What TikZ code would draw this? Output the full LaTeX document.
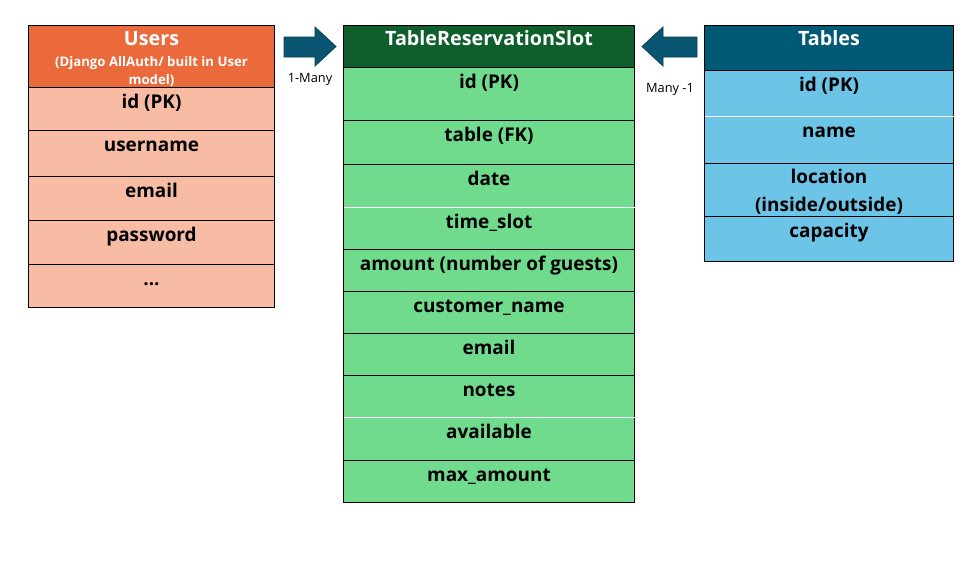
\documentclass[tikz,border=0pt]{standalone}
\usepackage{fontspec}
\setmainfont{Open Sans}
\usetikzlibrary{calc}
\definecolor{uhead}{HTML}{EA6A3B}
\definecolor{urow}{HTML}{F7BCA3}
\definecolor{ghead}{HTML}{0E5F2B}
\definecolor{grow}{HTML}{70DB8C}
\definecolor{thead}{HTML}{005A76}
\definecolor{trow}{HTML}{6CC4E6}
\definecolor{arrowfill}{HTML}{0A5571}
\definecolor{arrowline}{HTML}{083F55}
\begin{document}
\begin{tikzpicture}[x=0.75pt,y=-0.75pt,
  cell/.style 2 args={draw=black, line width=0.75pt, inner sep=0pt, anchor=north west,
     minimum width=#1*0.75pt, minimum height=#2*0.75pt},
  rowtext/.style={font=\bfseries\fontsize{14.2}{16}\selectfont, anchor=mid, inner sep=0pt, align=center},
  headtext/.style={font=\bfseries\fontsize{14.8}{16}\selectfont, text=white, anchor=mid, inner sep=0pt},
  subtext/.style={font=\bfseries\fontsize{9.9}{13.5}\selectfont, text=white, inner sep=0pt, align=center},
  reltext/.style={font=\fontsize{9.6}{11}\selectfont, inner sep=0pt},
  blockarrow/.style={fill=arrowfill, draw=arrowline, line width=0.6pt}]
\useasboundingbox (0,0) rectangle (980,565);
% ---------------- Users
\node[cell={246}{62}, fill=uhead] (u0) at (28,25) {};
\node[cell={246}{43}, fill=urow] (u1) at (28,87) {};
\node[cell={246}{46}, fill=urow] (u2) at (28,130) {};
\node[cell={246}{44}, fill=urow] (u3) at (28,176) {};
\node[cell={246}{44}, fill=urow] (u4) at (28,220) {};
\node[cell={246}{43}, fill=urow] (u5) at (28,264) {};
\node[headtext] (u0t) at ($(u0.north)+(0,16.5)$) {Users};
\node[subtext, anchor=north] (u0s) at ($(u0.north)+(0,31.5)$) {(Django AllAuth/ built in User\\model)};
\node[rowtext] at ($(u1.north)+(0,18)$) {id (PK)};
\node[rowtext] at ($(u2.north)+(0,18)$) {username};
\node[rowtext] at ($(u3.north)+(0,18)$) {email};
\node[rowtext] at ($(u4.north)+(0,18)$) {password};
\node[rowtext] at ($(u5.north)+(0,18)$) {...};
% ---------------- TableReservationSlot
\node[cell={291}{42}, fill=ghead] (r0) at (343,25) {};
\node[cell={291}{53}, fill=grow] (r1) at (343,67) {};
\node[cell={291}{44}, fill=grow] (r2) at (343,120) {};
\node[cell={291}{43}, fill=grow] (r3) at (343,164) {};
\node[cell={291}{42}, fill=grow] (r4) at (343,207) {};
\node[cell={291}{42}, fill=grow] (r5) at (343,249) {};
\node[cell={291}{42}, fill=grow] (r6) at (343,291) {};
\node[cell={291}{42}, fill=grow] (r7) at (343,333) {};
\node[cell={291}{42}, fill=grow] (r8) at (343,375) {};
\node[cell={291}{43}, fill=grow] (r9) at (343,417) {};
\node[cell={291}{42}, fill=grow] (r10) at (343,460) {};
\draw[white, line width=0.75pt] ($(r4.north west)+(0.5,0)$) -- ($(r4.north east)+(-0.5,0)$);
\draw[white, line width=0.75pt] ($(r9.north west)+(0.5,0)$) -- ($(r9.north east)+(-0.5,0)$);
\node[headtext] at ($(r0.north)+(0,17)$) {TableReservationSlot};
\node[rowtext] at ($(r1.north)+(0,18)$) {id (PK)};
\node[rowtext] at ($(r2.north)+(0,18)$) {table (FK)};
\node[rowtext] at ($(r3.north)+(0,18)$) {date};
\node[rowtext] at ($(r4.north)+(0,18)$) {time\_slot};
\node[rowtext] at ($(r5.north)+(0,18)$) {amount (number of guests)};
\node[rowtext] at ($(r6.north)+(0,18)$) {customer\_name};
\node[rowtext] at ($(r7.north)+(0,18)$) {email};
\node[rowtext] at ($(r8.north)+(0,18)$) {notes};
\node[rowtext] at ($(r9.north)+(0,18)$) {available};
\node[rowtext] at ($(r10.north)+(0,18)$) {max\_amount};
% ---------------- Tables
\node[cell={249}{45}, fill=thead] (t0) at (704,25) {};
\node[cell={249}{46}, fill=trow] (t1) at (704,70) {};
\node[cell={249}{47}, fill=trow] (t2) at (704,116) {};
\node[cell={249}{53}, fill=trow] (t3) at (704,163) {};
\node[cell={249}{45}, fill=trow] (t4) at (704,216) {};
\draw[white, line width=0.75pt] ($(t2.north west)+(0.5,0)$) -- ($(t2.north east)+(-0.5,0)$);
\node[headtext] at ($(t0.north)+(0,17)$) {Tables};
\node[rowtext] at ($(t1.north)+(0,18)$) {id (PK)};
\node[rowtext] at ($(t2.north)+(0,18)$) {name};
\node[rowtext] at ($(t3.north)+(0,17)$) {location};
\node[rowtext] at ($(t3.north)+(0,44.5)$) {(inside/outside)};
\node[rowtext] at ($(t4.north)+(0,17.5)$) {capacity};
% ---------------- relation arrows
\draw[blockarrow] (284,37) -- (315,37) -- (315,27) -- (336,46.5) -- (315,66) -- (315,57) -- (284,57) -- cycle;
\draw[blockarrow] (697,37) -- (663,37) -- (663,27) -- (642,46.5) -- (663,66) -- (663,57) -- (697,57) -- cycle;
\node[reltext] (l1) at (310,79.5) {1-Many};
\node[reltext] (l2) at (670,89) {Many -1};
\end{tikzpicture}
\end{document}
